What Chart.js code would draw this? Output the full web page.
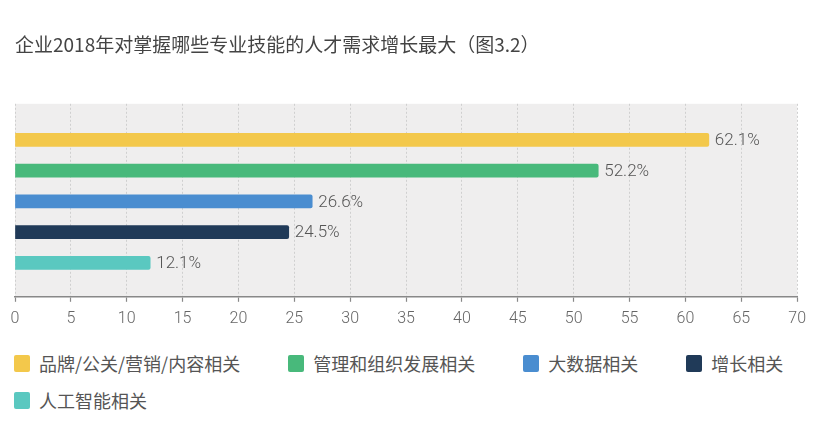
<!DOCTYPE html>
<html>
<head>
<meta charset="utf-8">
<script src="https://cdn.jsdelivr.net/npm/chart.js@4.4.1/dist/chart.umd.min.js"></script>
<style>
  html, body { margin: 0; padding: 0; background: #ffffff; }
  #wrap { position: relative; width: 814px; height: 431px; overflow: hidden; }
  #c { position: absolute; left: 0; top: 0; }
  #legend {
    position: absolute; left: 14px; top: 353px; width: 790px;
    display: flex; flex-wrap: wrap; column-gap: 48px; row-gap: 17px;
    font-family: "Noto Sans CJK SC", "Noto Sans", sans-serif; font-size: 18px; color: #555;
  }
  .item { display: flex; align-items: center; height: 20px; line-height: 20px; white-space: nowrap; }
  .box { width: 16px; height: 17px; border-radius: 2px; margin-right: 9px; }
</style>
</head>
<body>
<div id="wrap">
  <canvas id="c" width="814" height="340"></canvas>
  <div id="legend"></div>
</div>
<script>
const titleText = '企业2018年对掌握哪些专业技能的人才需求增长最大（图3.2）';
const categories = ['品牌/公关/营销/内容相关', '管理和组织发展相关', '大数据相关', '增长相关', '人工智能相关'];
const values = [62.1, 52.2, 26.6, 24.5, 12.1];
const xTickValues = [0, 5, 10, 15, 20, 25, 30, 35, 40, 45, 50, 55, 60, 65, 70];
const colors = ['#f3c84b', '#48b97b', '#4a8dd0', '#203a58', '#5ac8c0'];

const datasets = categories.map((name, i) => ({
  label: name,
  data: [{ x: values[i], y: i }],
  backgroundColor: colors[i],
  borderWidth: 0,
  borderRadius: 2,
  borderSkipped: 'start',
  grouped: false,
  barThickness: 13
}));

const bgPlugin = {
  id: 'plotBg',
  beforeDraw(chart) {
    const { ctx, chartArea: a } = chart;
    ctx.save();
    ctx.fillStyle = '#efeeee';
    ctx.fillRect(a.left, a.top, a.right - a.left, a.bottom - a.top);
    ctx.restore();
  }
};

const labelPlugin = {
  id: 'valueLabels',
  afterDatasetsDraw(chart) {
    const { ctx } = chart;
    ctx.save();
    ctx.font = '300 17px Roboto, "Liberation Sans", sans-serif';
    ctx.fillStyle = '#555';
    ctx.textAlign = 'left';
    ctx.textBaseline = 'middle';
    chart.data.datasets.forEach((ds, i) => {
      const meta = chart.getDatasetMeta(i);
      const bar = meta.data[0];
      if (!bar) return;
      ctx.fillText(values[i].toFixed(1) + '%', bar.x + 6, bar.y + 1);
    });
    ctx.restore();
  }
};

new Chart(document.getElementById('c'), {
  type: 'bar',
  data: { datasets },
  plugins: [bgPlugin, labelPlugin],
  options: {
    responsive: false,
    animation: false,
    indexAxis: 'y',
    layout: { padding: { left: 15, right: 15, top: 0, bottom: 3 } },
    plugins: {
      legend: { display: false },
      tooltip: { enabled: false },
      title: {
        display: true,
        text: titleText,
        align: 'start',
        color: '#444',
        font: { family: '"Noto Sans CJK SC", "Noto Sans", sans-serif', size: 19, weight: 'normal' },
        padding: { top: 33, bottom: 48 }
      }
    },
    scales: {
      x: {
        type: 'linear',
        min: 0,
        max: 70,
        afterBuildTicks(scale) { scale.ticks = xTickValues.map(v => ({ value: v })); },
        ticks: {
          color: '#666',
          padding: 8,
          maxRotation: 0,
          autoSkip: false,
          font: { family: 'Roboto, "Liberation Sans", sans-serif', size: 16, weight: '300' }
        },
        grid: {
          color: '#cfcfcf',
          lineWidth: 1,
          tickLength: 5,
          tickColor: '#888',
          tickWidth: 1.2,
          tickBorderDash: []
        },
        border: { display: true, color: '#888', width: 1.5, dash: [2, 2] }
      },
      y: {
        type: 'linear',
        reverse: true,
        offset: false,
        min: -1.17,
        max: 5.1,
        display: false
      }
    }
  }
});

const legend = document.getElementById('legend');
categories.forEach((name, i) => {
  const item = document.createElement('div');
  item.className = 'item';
  const box = document.createElement('span');
  box.className = 'box';
  box.style.background = colors[i];
  const txt = document.createElement('span');
  txt.textContent = name;
  item.appendChild(box);
  item.appendChild(txt);
  legend.appendChild(item);
});
</script>
</body>
</html>
